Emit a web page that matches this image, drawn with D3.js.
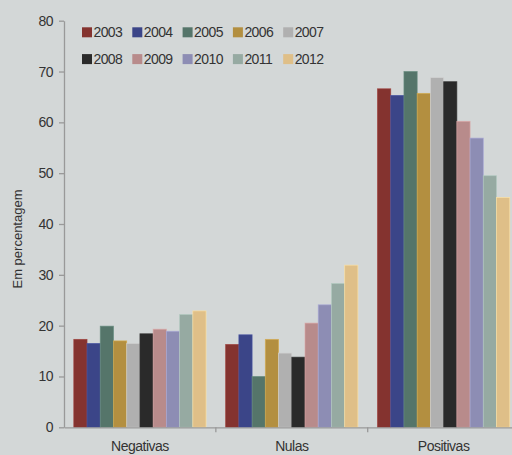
<!DOCTYPE html>
<html><head><meta charset="utf-8">
<script src="https://cdn.jsdelivr.net/npm/d3@7/dist/d3.min.js"></script>
<style>
html,body{margin:0;padding:0;background:#d3d7d7;}
svg{display:block;font-family:"Liberation Sans",Arial,sans-serif;}
</style></head><body>
<svg id="c" width="512" height="455"></svg>
<script>
const categories = ["Negativas", "Nulas", "Positivas"];
const years = ["2003","2004","2005","2006","2007","2008","2009","2010","2011","2012"];
const colors = ["#84332f","#3b4588","#55756a","#b38f40","#b0b0b0","#2a2a2a","#b88b8b","#8d8db4","#96aaa2","#dfbf88"];
const negativas = [17.3, 16.5, 19.9, 17.0, 16.5, 18.4, 19.3, 18.9, 22.2, 22.9];
const nulas = [16.3, 18.2, 10.0, 17.3, 14.6, 13.8, 20.5, 24.1, 28.3, 31.9];
const positivas = [66.6, 65.3, 70.0, 65.7, 68.8, 68.0, 60.2, 56.9, 49.5, 45.2];
const yTicks = [0, 10, 20, 30, 40, 50, 60, 70, 80];
const yLabel = "Em percentagem";

const series = [negativas, nulas, positivas];
const svg = d3.select("#c");
const x0 = 64, band = 151.85;
const x = d3.scaleBand().domain(categories).range([x0, x0 + band * 3]).paddingInner(0).paddingOuter(0);
const xi = d3.scaleBand().domain(years).range([9.8, band - 9.8]).padding(0);
const y = d3.scaleLinear().domain([0, 80]).range([427.3, 20.7]);

// bars
categories.forEach((c, ci) => {
  const g = svg.append("g").attr("transform", `translate(${x(c)},0)`);
  g.selectAll("rect").data(series[ci]).join("rect")
    .attr("x", (d, i) => xi(years[i]))
    .attr("width", xi.bandwidth())
    .attr("y", d => y(d))
    .attr("height", d => y(0) - y(d))
    .attr("fill", (d, i) => colors[i])
    .attr("stroke", (d, i) => d3.color(colors[i]).brighter(0.5))
    .attr("stroke-width", 0.8)
    .attr("stroke-opacity", 0.8);
});

// y axis
const ya = svg.append("g").attr("transform", `translate(${x0},0)`)
  .call(d3.axisLeft(y).tickValues(yTicks).tickSize(5).tickPadding(6).tickSizeOuter(0));
ya.select(".domain").attr("stroke", "#999").attr("stroke-width", 1.3);
ya.selectAll(".tick line").attr("stroke", "#999").attr("stroke-width", 1.3);
ya.selectAll(".tick text").attr("fill", "#333").attr("font-size", 14).style("letter-spacing", "-0.5px");

// x axis
const xa = svg.append("g").attr("transform", `translate(0,${y(0)})`)
  .call(d3.axisBottom(x).tickSize(0).tickPadding(14).tickSizeOuter(0));
xa.select(".domain").attr("stroke", "#999").attr("stroke-width", 1.3);
xa.selectAll(".tick text").attr("fill", "#333").attr("font-size", 14).style("letter-spacing", "-0.5px");
// category boundary ticks
svg.append("g").selectAll("line").data(categories.slice(1)).join("line")
  .attr("x1", d => x(d)).attr("x2", d => x(d))
  .attr("y1", y(0)).attr("y2", y(0) + 5)
  .attr("stroke", "#999").attr("stroke-width", 1.3);

// y label
svg.append("text")
  .attr("transform", "translate(22,239) rotate(-90)")
  .attr("text-anchor", "middle")
  .attr("fill", "#333").attr("font-size", 13)
  .text(yLabel);

// legend
const leg = svg.append("g");
years.forEach((yr, i) => {
  const row = Math.floor(i / 5), col = i % 5;
  const lx = 82 + col * 50.3, ly = 27.3 + row * 26.8;
  leg.append("rect").attr("x", lx).attr("y", ly).attr("width", 10).attr("height", 10).attr("fill", colors[i]);
  leg.append("text").attr("x", lx + 11.5).attr("y", ly + 10).attr("fill", "#333")
    .attr("font-size", 14).style("letter-spacing", "-0.6px").text(yr);
});
</script>
</body></html>
